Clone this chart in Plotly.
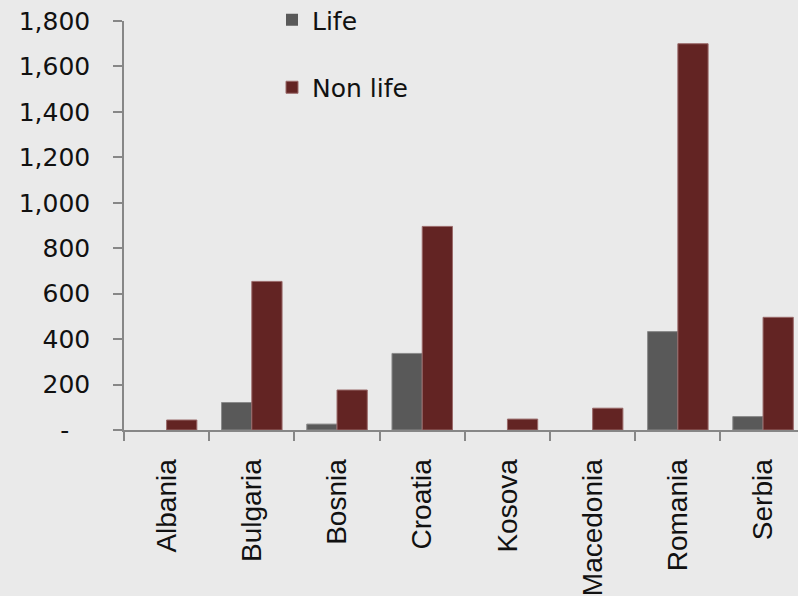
import plotly.graph_objects as go

# Gross written premiums by country
countries = ["Albania", "Bulgaria", "Bosnia", "Croatia", "Kosova", "Macedonia", "Romania", "Serbia"]
life = [0, 121, 26, 337, 0, 0, 433, 59]
non_life = [44, 654, 176, 896, 48, 96, 1700, 496]

y_ticks = [0, 200, 400, 600, 800, 1000, 1200, 1400, 1600, 1800]
y_tick_text = ["-\u00a0\u00a0\u2009", "200", "400", "600", "800", "1,000", "1,200", "1,400", "1,600", "1,800"]

BG = "#EAEAEA"
AXIS = "#878787"
TICK_FONT = dict(family="DejaVu Sans", size=25, color="#111111")

L, R, T, B = 124, 0, 21, 166
W, H = 798, 596
plot_w, plot_h = W - L - R, H - T - B


def outline(values):
    # no outline on empty bars so nothing is drawn for zero values
    return [0 if v == 0 else 1 for v in values]


fig = go.Figure()
fig.add_trace(go.Bar(
    x=countries, y=life, name="Life", legendgroup="a",
    marker=dict(color="#595959", line=dict(color="#8A8A8A", width=outline(life))),
))
fig.add_trace(go.Bar(
    x=countries, y=non_life, name="Non life", legendgroup="b",
    marker=dict(color="#632423", line=dict(color="#9A6A6A", width=outline(non_life))),
))

fig.update_layout(
    width=W, height=H,
    margin=dict(l=L, r=R, t=T, b=B, autoexpand=False),
    paper_bgcolor=BG, plot_bgcolor=BG,
    barmode="group", bargap=0.29, bargroupgap=0,
    showlegend=True,
    legend=dict(
        xref="paper", yref="paper",
        x=(272 - L) / plot_w, y=1 + (T + 3) / plot_h, xanchor="left", yanchor="top",
        font=dict(family="DejaVu Sans", size=25, color="#111111"),
        bgcolor="rgba(0,0,0,0)", traceorder="grouped", tracegroupgap=32,
        itemwidth=30,
    ),
    xaxis=dict(
        range=[-0.5, 7.41], automargin=False,
        showline=True, linecolor=AXIS, linewidth=2,
        ticks="outside", tickson="boundaries", ticklen=9, tickcolor=AXIS, tickwidth=2,
        tickangle=-90, showgrid=False,
        ticklabelstandoff=16,
        tickfont=dict(family="Liberation Sans", size=28, color="#111111"),
    ),
    yaxis=dict(
        range=[0, 1800], automargin=False,
        tickvals=y_ticks, ticktext=y_tick_text,
        showline=True, linecolor=AXIS, linewidth=1.5,
        ticks="outside", ticklen=9, tickcolor=AXIS, tickwidth=1.5,
        showgrid=False, zeroline=False,
        ticklabelstandoff=18,
        tickfont=TICK_FONT,
    ),
)

fig.write_html("out.html")
